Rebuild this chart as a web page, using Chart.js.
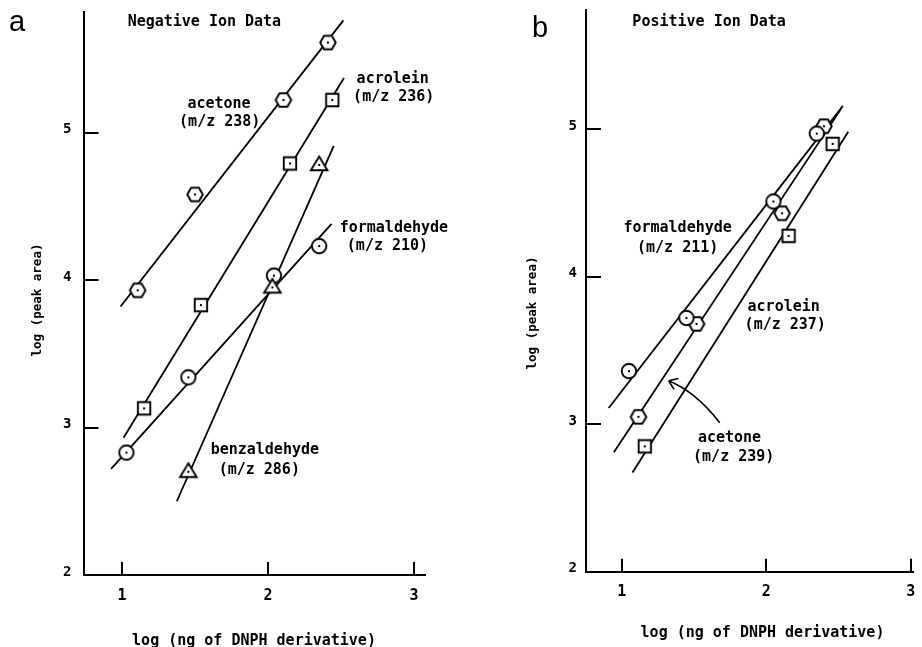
<!DOCTYPE html>
<html>
<head>
<meta charset="utf-8">
<script src="https://cdn.jsdelivr.net/npm/chart.js@4.4.0/dist/chart.umd.min.js"></script>
<style>
html, body { margin: 0; padding: 0; background: #fff; }
#wrap { position: relative; width: 922px; height: 647px; overflow: hidden; }
canvas { position: absolute; top: 0; }
#chart-a { left: 0; }
#chart-b { left: 461px; }
</style>
</head>
<body>
<div id="wrap">
  <canvas id="chart-a" width="461" height="647"></canvas>
  <canvas id="chart-b" width="461" height="647"></canvas>
</div>
<script>
// tick values (both panels)
const xTicks = [1, 2, 3];
const yTicks = [2, 3, 4, 5];

// panel a - negative ion data, log(ng) vs log(peak area)
const negAcetoneX = [1.107, 1.50, 2.105, 2.41];
const negAcetoneY = [3.93, 4.58, 5.22, 5.61];
const negAcetoneFitX = [0.99, 2.516];
const negAcetoneFitY = [3.82, 5.76];

const negAcroleinX = [1.151, 1.54, 2.15, 2.44];
const negAcroleinY = [3.13, 3.83, 4.79, 5.22];
const negAcroleinFitX = [1.01, 2.52];
const negAcroleinFitY = [2.93, 5.37];

const negBenzX = [1.454, 2.03, 2.35];
const negBenzY = [2.70, 3.95, 4.78];
const negBenzFitX = [1.375, 2.45];
const negBenzFitY = [2.50, 4.91];

const negFormX = [1.03, 1.454, 2.04, 2.35];
const negFormY = [2.83, 3.34, 4.03, 4.23];
const negFormFitX = [0.925, 2.435];
const negFormFitY = [2.72, 4.38];

// panel b - positive ion data
const posFormX = [1.05, 1.448, 2.05, 2.35];
const posFormY = [3.36, 3.72, 4.51, 4.97];
const posFormFitX = [0.91, 2.531];
const posFormFitY = [3.11, 5.158];

const posAcetoneX = [1.116, 1.518, 2.11, 2.40];
const posAcetoneY = [3.05, 3.68, 4.43, 5.02];
const posAcetoneFitX = [0.946, 2.517];
const posAcetoneFitY = [2.81, 5.136];

const posAcroleinX = [1.16, 2.155, 2.46];
const posAcroleinY = [2.85, 4.277, 4.90];
const posAcroleinFitX = [1.075, 2.568];
const posAcroleinFitY = [2.673, 4.982];

// curved pointer for "acetone" in panel b: start, control, tip
const arrowX = [1.678, 1.514, 1.325];
const arrowY = [3.01, 3.218, 3.294];

const negLabels = [
    { text: 'Negative Ion Data', x: 1.564, y: 5.722 },
    { text: 'acetone', x: 1.664, y: 5.168 },
    { text: '(m/z 238)', x: 1.669, y: 5.044 },
    { text: 'acrolein', x: 2.854, y: 5.334 },
    { text: '(m/z 236)', x: 2.861, y: 5.214 },
    { text: 'formaldehyde', x: 2.862, y: 4.327 },
    { text: '(m/z 210)', x: 2.818, y: 4.201 },
    { text: 'benzaldehyde', x: 1.978, y: 2.818 },
    { text: '(m/z 286)', x: 1.940, y: 2.683 }
];
const posLabels = [
    { text: 'Positive Ion Data', x: 1.605, y: 5.700 },
    { text: 'formaldehyde', x: 1.387, y: 4.306 },
    { text: '(m/z 211)', x: 1.387, y: 4.164 },
    { text: 'acrolein', x: 2.121, y: 3.768 },
    { text: '(m/z 237)', x: 2.132, y: 3.644 },
    { text: 'acetone', x: 1.746, y: 2.880 },
    { text: '(m/z 239)', x: 1.775, y: 2.751 }
];

const MONO = '"DejaVu Sans Mono", "Liberation Mono", monospace';

function toPoints(xs, ys) {
    return xs.map((x, i) => ({ x: x, y: ys[i] }));
}

// open marker with a dot in the middle
function makeMarker(shape) {
    const size = 22;
    const c = document.createElement('canvas');
    c.width = size;
    c.height = size;
    const g = c.getContext('2d');
    const m = size / 2;
    g.lineWidth = 1.9;
    g.strokeStyle = '#000';
    g.fillStyle = '#fff';
    g.beginPath();
    if (shape === 'circle') {
        g.arc(m, m, 7.2, 0, Math.PI * 2);
    } else if (shape === 'square') {
        g.rect(m - 6.2, m - 6.2, 12.4, 12.4);
    } else if (shape === 'hexagon') {
        for (let i = 0; i < 6; i++) {
            const a = i * Math.PI / 3;
            const px = m + 7.8 * Math.cos(a);
            const py = m + 7.8 * Math.sin(a);
            if (i === 0) g.moveTo(px, py); else g.lineTo(px, py);
        }
    } else if (shape === 'triangle') {
        g.moveTo(m, m - 8.5);
        g.lineTo(m + 8.3, m + 5.2);
        g.lineTo(m - 8.3, m + 5.2);
    }
    g.closePath();
    g.fill();
    g.stroke();
    g.fillStyle = '#000';
    g.fillRect(m - 1, m - 1, 2, 2);
    return c;
}

const markers = {
    circle: makeMarker('circle'),
    square: makeMarker('square'),
    hexagon: makeMarker('hexagon'),
    triangle: makeMarker('triangle')
};

function markerSet(xs, ys, shape) {
    return {
        data: toPoints(xs, ys),
        showLine: false,
        pointStyle: markers[shape],
        pointRadius: 8,
        order: 0
    };
}

function fitSet(xs, ys) {
    return {
        data: toPoints(xs, ys),
        showLine: true,
        borderColor: '#000',
        borderWidth: 1.8,
        pointRadius: 0,
        order: 1
    };
}

// draws inner tick marks, text labels, panel letter, axis titles, pointer
const paperDecor = {
    id: 'paperDecor',
    afterDraw(chart, args, opts) {
        const ctx = chart.ctx;
        const xs = chart.scales.x;
        const ys = chart.scales.y;
        const area = chart.chartArea;
        ctx.save();
        ctx.strokeStyle = '#000';
        ctx.fillStyle = '#000';

        // inward tick marks
        ctx.lineWidth = 2;
        ctx.beginPath();
        yTicks.slice(1).forEach(v => {
            const py = Math.round(ys.getPixelForValue(v));
            ctx.moveTo(area.left, py);
            ctx.lineTo(area.left + 15, py);
        });
        xTicks.forEach(v => {
            const px = Math.round(xs.getPixelForValue(v));
            ctx.moveTo(px, area.bottom);
            ctx.lineTo(px, area.bottom - 13);
        });
        ctx.stroke();

        // series labels
        ctx.font = '700 15px ' + MONO;
        ctx.textAlign = 'center';
        ctx.textBaseline = 'alphabetic';
        opts.labels.forEach(l => {
            ctx.fillText(l.text, xs.getPixelForValue(l.x), ys.getPixelForValue(l.y));
        });

        // x axis title
        ctx.fillText(opts.xTitle.text, opts.xTitle.cx, opts.xTitle.base);

        // y axis title
        ctx.save();
        ctx.font = '700 12.5px ' + MONO;
        ctx.translate(opts.yTitle.base, opts.yTitle.cy);
        ctx.rotate(-Math.PI / 2);
        ctx.fillText(opts.yTitle.text, 0, 0);
        ctx.restore();

        // panel letter
        ctx.font = '400 29px "Liberation Sans", sans-serif';
        ctx.fillText(opts.letter.text, opts.letter.cx, opts.letter.base);

        // curved pointer
        if (opts.arrow) {
            const pts = opts.arrow.x.map((v, i) => [xs.getPixelForValue(v), ys.getPixelForValue(opts.arrow.y[i])]);
            const [s, c, e] = pts;
            ctx.lineWidth = 1.6;
            ctx.beginPath();
            ctx.moveTo(s[0], s[1]);
            ctx.quadraticCurveTo(c[0], c[1], e[0], e[1]);
            const ang = Math.atan2(e[1] - c[1], e[0] - c[0]) + Math.PI;
            [-0.62, 0.62].forEach(d => {
                ctx.moveTo(e[0], e[1]);
                ctx.lineTo(e[0] + 10 * Math.cos(ang + d), e[1] + 10 * Math.sin(ang + d));
            });
            ctx.stroke();
        }
        ctx.restore();
    }
};

function buildPanel(canvasId, p) {
    const tickFont = size => ({ family: MONO, size: size, weight: 'bold' });
    return new Chart(document.getElementById(canvasId), {
        type: 'scatter',
        data: { datasets: p.datasets },
        plugins: [paperDecor],
        options: {
            responsive: false,
            animation: false,
            devicePixelRatio: 1,
            layout: { padding: { top: p.top, right: p.right, bottom: 0, left: 0 } },
            plugins: {
                legend: { display: false },
                tooltip: { enabled: false },
                paperDecor: {
                    labels: p.labels,
                    letter: p.letter,
                    xTitle: p.xTitle,
                    yTitle: p.yTitle,
                    arrow: p.arrow
                }
            },
            scales: {
                x: {
                    type: 'linear',
                    position: 'bottom',
                    min: p.xMin,
                    max: p.xMax,
                    afterBuildTicks: s => { s.ticks = xTicks.map(v => ({ value: v })); },
                    afterFit: s => { s.height = p.xHeight; s.paddingLeft = 0; s.paddingRight = 0; },
                    grid: { display: false, drawTicks: false },
                    border: { display: true, color: '#000', width: 2 },
                    ticks: { color: '#000', padding: p.xPad, maxRotation: 0, font: tickFont(15), callback: v => String(v) }
                },
                y: {
                    type: 'linear',
                    position: 'left',
                    min: 2,
                    max: p.yMax,
                    afterBuildTicks: s => { s.ticks = yTicks.map(v => ({ value: v })); },
                    afterFit: s => { s.width = p.yWidth; s.paddingTop = 0; s.paddingBottom = 0; },
                    grid: { display: false, drawTicks: false },
                    border: { display: true, color: '#000', width: 2 },
                    ticks: { color: '#000', padding: p.yPad, labelOffset: -3, font: tickFont(14), callback: v => String(v) }
                }
            }
        }
    });
}

buildPanel('chart-a', {
    datasets: [
        markerSet(negAcetoneX, negAcetoneY, 'hexagon'),
        markerSet(negAcroleinX, negAcroleinY, 'square'),
        markerSet(negBenzX, negBenzY, 'triangle'),
        markerSet(negFormX, negFormY, 'circle'),
        fitSet(negAcetoneFitX, negAcetoneFitY),
        fitSet(negAcroleinFitX, negAcroleinFitY),
        fitSet(negBenzFitX, negBenzFitY),
        fitSet(negFormFitX, negFormFitY)
    ],
    labels: negLabels,
    letter: { text: 'a', cx: 17, base: 31 },
    xTitle: { text: 'log (ng of DNPH derivative)', cx: 254, base: 645 },
    yTitle: { text: 'log (peak area)', base: 41, cy: 300 },
    top: 12, right: 36, yWidth: 83.5, xHeight: 72,
    xMin: 0.736, xMax: 3.075, yMax: 5.817,
    xPad: 12, yPad: 12
});

buildPanel('chart-b', {
    datasets: [
        markerSet(posFormX, posFormY, 'circle'),
        markerSet(posAcetoneX, posAcetoneY, 'hexagon'),
        markerSet(posAcroleinX, posAcroleinY, 'square'),
        fitSet(posFormFitX, posFormFitY),
        fitSet(posAcetoneFitX, posAcetoneFitY),
        fitSet(posAcroleinFitX, posAcroleinFitY)
    ],
    labels: posLabels,
    letter: { text: 'b', cx: 79, base: 37 },
    xTitle: { text: 'log (ng of DNPH derivative)', cx: 301.5, base: 637 },
    yTitle: { text: 'log (peak area)', base: 535.7 - 461, cy: 313 },
    arrow: { x: arrowX, y: arrowY },
    top: 10, right: 4, yWidth: 125, xHeight: 75.3,
    xMin: 0.753, xMax: 3.016, yMax: 5.808,
    xPad: 11, yPad: 9
});
</script>
</body>
</html>
